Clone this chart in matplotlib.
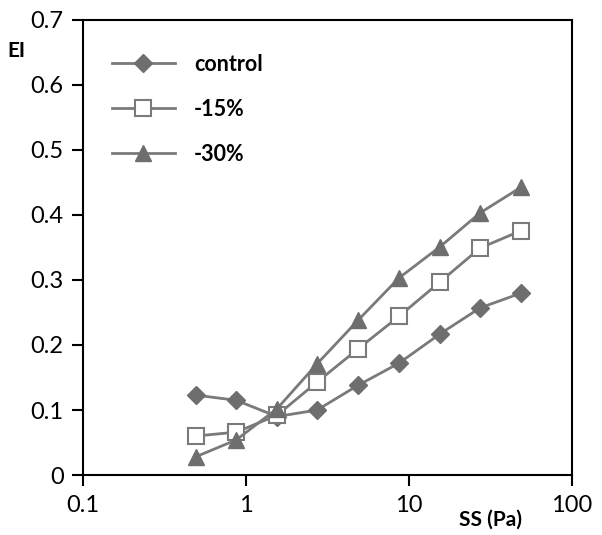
import numpy as np
import matplotlib
matplotlib.use("Agg")
import matplotlib.pyplot as plt

# shear stress (Pa) and EI values
ss = [0.49, 0.87, 1.55, 2.73, 4.87, 8.68, 15.5, 27.3, 49.0]
ei_control = [0.123, 0.115, 0.090, 0.100, 0.138, 0.172, 0.217, 0.257, 0.280]
ei_15 = [0.060, 0.066, 0.092, 0.143, 0.194, 0.244, 0.297, 0.349, 0.376]
ei_30 = [0.028, 0.054, 0.102, 0.171, 0.238, 0.303, 0.351, 0.403, 0.443]

x_ticks = [0.1, 1, 10, 100]
x_labels = ["0.1", "1", "10", "100"]
y_ticks = [0, 0.1, 0.2, 0.3, 0.4, 0.5, 0.6, 0.7]
y_labels = ["0", "0.1", "0.2", "0.3", "0.4", "0.5", "0.6", "0.7"]

GREY = "#7a7a7a"
MARK = "#6e6e6e"

plt.rcParams["font.family"] = ["Lato", "DejaVu Sans"]

fig = plt.figure(figsize=(6.02, 5.35), dpi=100)
ax = fig.add_axes([0.138, 0.112, 0.812, 0.851])

ax.plot(ss, ei_control, color=GREY, lw=2, marker="D", ms=9,
        mfc=MARK, mec=MARK, label="control")
ax.plot(ss, ei_15, color=GREY, lw=2, marker="s", ms=11,
        mfc="white", mec=GREY, mew=1.5, label="-15%")
ax.plot(ss, ei_30, color=GREY, lw=2, marker="^", ms=11,
        mfc=MARK, mec=MARK, label="-30%")

ax.set_xscale("log")
ax.set_xlim(0.1, 100)
ax.set_ylim(0, 0.7)
ax.set_xticks(x_ticks)
ax.set_xticklabels(x_labels)
ax.xaxis.set_minor_locator(matplotlib.ticker.NullLocator())
ax.set_yticks(y_ticks)
ax.set_yticklabels(y_labels)
ax.tick_params(direction="out", length=8, width=1.5, labelsize=17,
               colors="black", pad=6)
for sp in ax.spines.values():
    sp.set_linewidth(1.5)

leg = ax.legend(loc="upper left", bbox_to_anchor=(0.02, 0.968), frameon=False,
                prop={"weight": "bold", "size": 15.5}, handlelength=2.9,
                labelspacing=1.12, handletextpad=0.9)

fig.text(0.012, 0.893, "EI", fontsize=15, fontweight="bold")
fig.text(0.815, 0.018, "SS (Pa)", fontsize=15, fontweight="bold", ha="center")

fig.savefig("out.png", dpi=100)
